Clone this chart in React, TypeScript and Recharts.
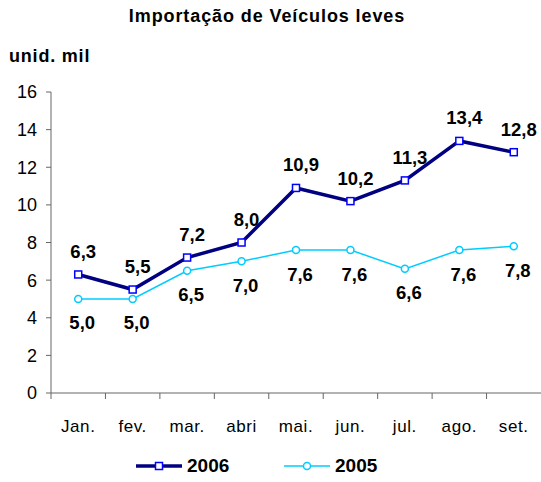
import { LineChart, Line, XAxis, YAxis } from 'recharts';

const months = ['Jan.', 'fev.', 'mar.', 'abri', 'mai.', 'jun.', 'jul.', 'ago.', 'set.'];
const serie2006 = [6.3, 5.5, 7.2, 8.0, 10.9, 10.2, 11.3, 13.4, 12.8];
const serie2005 = [5.0, 5.0, 6.5, 7.0, 7.6, 7.6, 6.6, 7.6, 7.8];
const yTicks = [0, 2, 4, 6, 8, 10, 12, 14, 16];

const data = months.map((m, i) => ({ month: m, v2006: serie2006[i], v2005: serie2005[i] }));

const FONT = 'Arial, "Liberation Sans", sans-serif';
const NAVY = '#000080';
const CYAN = '#00CCFF';
const BAND = 490 / months.length;

const fmt = (v: number) => v.toFixed(1).replace('.', ',');

function XTick(props: any) {
  const { x, y, payload } = props;
  return (
    <g>
      <line x1={x - BAND / 2} x2={x - BAND / 2} y1={y} y2={y + 6} stroke="#666" />
      <text x={x} y={y + 39} textAnchor="middle" fontSize={17} letterSpacing={0.6} fontFamily={FONT} fill="#000">
        {payload.value}
      </text>
    </g>
  );
}

function SquareDot(props: any) {
  const { cx, cy, index } = props;
  return <rect key={'s' + index} x={cx - 3.5} y={cy - 3.5} width={7} height={7} fill="#fff" stroke="#0000FF" strokeWidth={1.5} />;
}

function CircleDot(props: any) {
  const { cx, cy, index } = props;
  return <circle key={'c' + index} cx={cx} cy={cy} r={3.5} fill="#fff" stroke={CYAN} strokeWidth={1.5} />;
}

const labelAbove = (p: any) => (
  <text key={'la' + p.index} x={p.x + 5} y={p.y - 23} dy="0.35em" textAnchor="middle" fontSize={18.5} fontWeight="bold" fontFamily={FONT} fill="#000">
    {fmt(p.value)}
  </text>
);

const labelBelow = (p: any) => (
  <text key={'lb' + p.index} x={p.x + 4} y={p.y + 24} dy="0.35em" textAnchor="middle" fontSize={18.5} fontWeight="bold" fontFamily={FONT} fill="#000">
    {fmt(p.value)}
  </text>
);

export default function App() {
  return (
    <div style={{ position: 'absolute', left: 0, top: 0, width: 541, height: 482, background: '#fff', fontFamily: FONT }}>
      <div style={{ position: 'absolute', left: 0, width: 534, top: 6, textAlign: 'center', fontSize: 18, letterSpacing: 0.9, fontWeight: 'bold' }}>
        Importação de Veículos leves
      </div>
      <div style={{ position: 'absolute', left: 9, top: 46, fontSize: 18, letterSpacing: 0.8, fontWeight: 'bold' }}>unid. mil</div>
      <LineChart width={541} height={482} data={data} margin={{ top: 92, right: 0, bottom: 59, left: 0 }}>
        <XAxis
          dataKey="month"
          height={30}
          padding={{ left: BAND / 2, right: BAND / 2 }}
          stroke="#666"
          tickLine={false}
          tickSize={0}
          tickMargin={0}
          interval={0}
          tick={<XTick />}
        />
        <YAxis
          width={51}
          domain={[0, 16]}
          ticks={yTicks}
          stroke="#666"
          tickSize={5}
          tickMargin={9}
          tick={{ fontSize: 18, fill: '#000', fontFamily: FONT }}
        />
        <Line
          dataKey="v2005"
          stroke={CYAN}
          strokeWidth={1.5}
          dot={<CircleDot />}
          label={labelBelow}
          isAnimationActive={false}
        />
        <Line
          dataKey="v2006"
          stroke={NAVY}
          strokeWidth={3.5}
          dot={<SquareDot />}
          label={labelAbove}
          isAnimationActive={false}
        />
      </LineChart>
      <div style={{ position: 'absolute', top: 455, left: 136, display: 'flex', alignItems: 'center', fontSize: 19, fontWeight: 'bold' }}>
        <svg width={46} height={22}>
          <line x1={0} x2={46} y1={11} y2={11} stroke={NAVY} strokeWidth={3.5} />
          <rect x={19.5} y={7.5} width={7} height={7} fill="#fff" stroke="#0000FF" strokeWidth={1.5} />
        </svg>
        <span style={{ marginLeft: 5 }}>2006</span>
      </div>
      <div style={{ position: 'absolute', top: 455, left: 284, display: 'flex', alignItems: 'center', fontSize: 19, fontWeight: 'bold' }}>
        <svg width={46} height={22}>
          <line x1={0} x2={46} y1={11} y2={11} stroke={CYAN} strokeWidth={1.5} />
          <circle cx={23} cy={11} r={3.5} fill="#fff" stroke={CYAN} strokeWidth={1.5} />
        </svg>
        <span style={{ marginLeft: 5 }}>2005</span>
      </div>
    </div>
  );
}
